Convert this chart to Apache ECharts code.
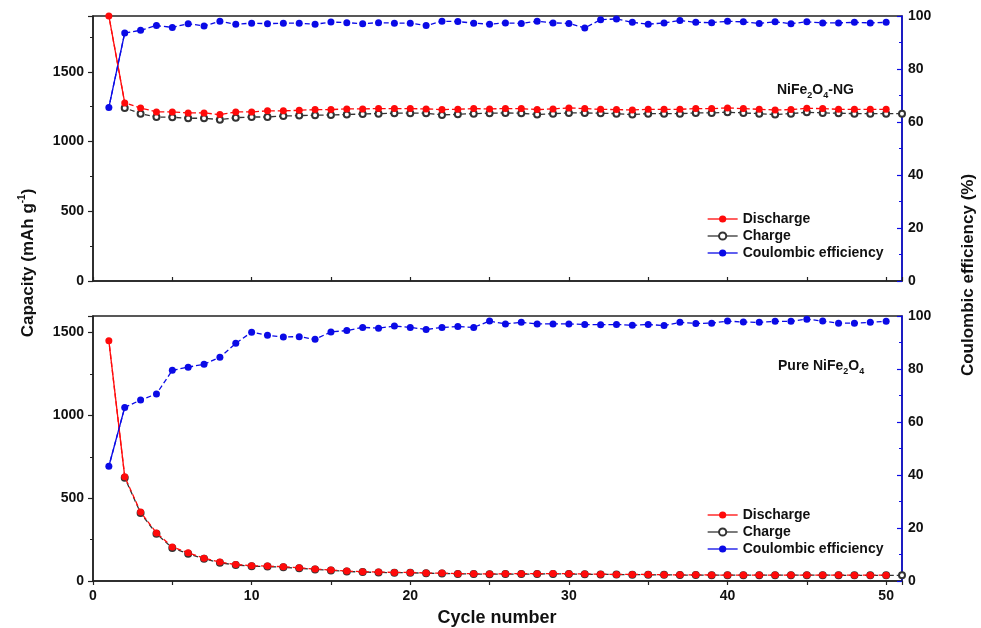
<!DOCTYPE html>
<html>
<head>
<meta charset="utf-8">
<script src="https://cdn.jsdelivr.net/npm/echarts@6/dist/echarts.min.js"></script>
<style>
html,body{margin:0;padding:0;background:#fff;}
#chart{width:981px;height:628px;}
</style>
</head>
<body>
<div id="chart"></div>
<script>
// ---------- data ----------
const cycles = [1,2,3,4,5,6,7,8,9,10,11,12,13,14,15,16,17,18,19,20,21,22,23,24,25,26,27,28,29,30,31,32,33,34,35,36,37,38,39,40,41,42,43,44,45,46,47,48,49,50];
const chargeCycles = [2,3,4,5,6,7,8,9,10,11,12,13,14,15,16,17,18,19,20,21,22,23,24,25,26,27,28,29,30,31,32,33,34,35,36,37,38,39,40,41,42,43,44,45,46,47,48,49,50,51];

// NiFe2O4-NG (top panel)
const ngDischarge = [1900,1277,1241,1212,1212,1205,1205,1193,1212,1212,1220,1220,1224,1229,1229,1234,1234,1236,1236,1236,1234,1229,1231,1236,1234,1236,1236,1229,1234,1241,1236,1231,1229,1226,1231,1231,1231,1236,1236,1241,1236,1231,1226,1229,1238,1236,1231,1231,1231,1231];
const ngCharge = [1241,1200,1176,1174,1167,1167,1157,1171,1176,1176,1183,1186,1188,1191,1193,1198,1200,1203,1203,1203,1191,1195,1200,1203,1205,1203,1193,1200,1205,1205,1203,1200,1193,1200,1200,1200,1205,1205,1210,1205,1200,1193,1200,1210,1205,1203,1200,1200,1200,1200];
const ngCE = [65.5,93.6,94.6,96.4,95.7,97.1,96.2,98.0,96.9,97.3,97.1,97.3,97.3,96.9,97.7,97.5,97.1,97.5,97.3,97.3,96.4,98.0,97.9,97.3,96.9,97.4,97.2,98.0,97.4,97.2,95.5,98.6,98.9,97.6,96.9,97.4,98.3,97.6,97.5,98.0,97.8,97.2,97.8,97.1,97.8,97.4,97.4,97.6,97.4,97.6];

// Pure NiFe2O4 (bottom panel)
const pureDischarge = [1450,630,416,290,206,170,138,114,100,92,90,86,80,72,66,60,56,54,52,52,48,48,44,44,43,44,44,44,45,44,43,41,40,40,39,38,37,37,36,36,36,36,36,36,36,36,36,35,35,35];
const pureCharge = [624,410,285,200,165,134,110,97,89,87,83,77,70,64,58,54,52,50,50,47,46,43,42,41,42,42,42,43,42,41,40,39,38,38,37,36,36,35,35,35,35,35,35,35,35,35,34,34,34,34];
const pureCE = [43.3,65.5,68.3,70.6,79.5,80.7,81.8,84.4,89.7,93.9,92.7,92.1,92.2,91.2,94.0,94.5,95.7,95.4,96.2,95.7,94.9,95.7,96.0,95.7,98.1,97.0,97.6,97.0,97.0,97.0,96.8,96.7,96.8,96.5,96.8,96.4,97.6,97.2,97.3,98.1,97.7,97.6,98.0,98.0,98.8,98.1,97.3,97.3,97.6,98.0];

const xTickLabels = [0,10,20,30,40,50];
const legendNames = ['Discharge','Charge','Coulombic efficiency'];

// ---------- styling ----------
const RED = '#ff0a0a', BLUE = '#0a0ae6', BLACK = '#333333', AXIS = '#222222';
const FONT = '"Liberation Sans", Arial, sans-serif';
const DASH = [5, 2.92];

function pts(xs, ys){ return xs.map((x,i)=>[x, ys[i]]); }

function mainSeries(name, xs, ys, color, gi, yi, empty){
  return {
    name: name, type: 'line', xAxisIndex: gi, yAxisIndex: yi,
    data: pts(xs, ys),
    symbol: empty ? 'emptyCircle' : 'circle', symbolSize: empty ? 6 : 7,
    itemStyle: empty ? {color: color, borderWidth: 1.1} : {color: color},
    lineStyle: {color: color, width: 1.3, type: DASH, dashOffset: 2.5},
    emphasis: {disabled: true}, animation: false, z: empty ? 2 : 3
  };
}
function segSeries(xs, ys, color, gi, yi){
  return {
    name: 'seg', type: 'line', xAxisIndex: gi, yAxisIndex: yi,
    data: pts(xs.slice(0,2), ys.slice(0,2)),
    symbol: 'none', lineStyle: {color: color, width: 1.3},
    emphasis: {disabled: true}, animation: false, silent: true, z: 1
  };
}

const labelStyle = {color: '#111', fontWeight: 'bold', fontSize: 14, fontFamily: FONT};

function xAxisCfg(gi, showLabels){
  return {
    type: 'value', gridIndex: gi, min: 0, max: 51, interval: 5,
    axisLine: {show: true, onZero: false, lineStyle: {color: AXIS, width: 1.5}},
    axisTick: {show: true, inside: !showLabels, length: 4, lineStyle: {color: AXIS, width: 1.2}},
    axisLabel: Object.assign({show: showLabels, margin: 8,
      formatter: v => xTickLabels.indexOf(v) >= 0 ? String(v) : ''}, labelStyle),
    splitLine: {show: false}
  };
}
function yLeftCfg(gi, max){
  return {
    type: 'value', gridIndex: gi, min: 0, max: max, interval: 500, position: 'left',
    axisLine: {show: true, lineStyle: {color: AXIS, width: 1.5}},
    axisTick: {show: true, inside: false, length: 5, lineStyle: {color: AXIS, width: 1.2}},
    minorTick: {show: true, splitNumber: 2, length: 3, lineStyle: {color: AXIS, width: 1}},
    axisLabel: Object.assign({margin: 9, showMaxLabel: false, formatter: v => String(v)}, labelStyle),
    splitLine: {show: false}
  };
}
function yRightCfg(gi){
  return {
    type: 'value', gridIndex: gi, min: 0, max: 100, interval: 20, position: 'right',
    axisLine: {show: true, lineStyle: {color: BLUE, width: 1.5}},
    axisTick: {show: true, inside: true, length: 5, lineStyle: {color: BLUE, width: 1.2}},
    minorTick: {show: true, splitNumber: 2, length: 3, lineStyle: {color: BLUE, width: 1}},
    axisLabel: Object.assign({margin: 6, formatter: v => String(v)}, labelStyle),
    splitLine: {show: false}
  };
}
function legendCfg(top){
  return {
    data: legendNames, orient: 'vertical', left: 702, top: top,
    itemWidth: 30, itemHeight: 9, itemGap: 3, selectedMode: false,
    lineStyle: {type: 'solid', width: 1.3},
    textStyle: {color: '#111', fontWeight: 'bold', fontSize: 14, fontFamily: FONT}
  };
}

const subRich = {
  b: {fontSize: 14, fontWeight: 'bold', fontFamily: FONT, fill: '#111', lineHeight: 20},
  s: {fontSize: 9, fontWeight: 'bold', fontFamily: FONT, fill: '#111', lineHeight: 20, verticalAlign: 'bottom'}
};
const titleRich = {
  t: {fontSize: 17, fontWeight: 'bold', fontFamily: FONT, fill: '#111', lineHeight: 22},
  u: {fontSize: 10, fontWeight: 'bold', fontFamily: FONT, fill: '#111', lineHeight: 22, verticalAlign: 'top'}
};

const option = {
  backgroundColor: '#ffffff',
  animation: false,
  grid: [
    {left: 93, right: 79, top: 16, height: 265, show: true, borderColor: AXIS, borderWidth: 1.5, backgroundColor: 'transparent'},
    {left: 93, right: 79, top: 316, height: 265, show: true, borderColor: AXIS, borderWidth: 1.5, backgroundColor: 'transparent'}
  ],
  xAxis: [xAxisCfg(0, false), xAxisCfg(1, true)],
  yAxis: [yLeftCfg(0, 1900), yRightCfg(0), yLeftCfg(1, 1600), yRightCfg(1)],
  legend: [legendCfg(207), legendCfg(503)],
  series: [
    segSeries(cycles, ngDischarge, RED, 0, 0),
    segSeries(cycles, ngCE, BLUE, 0, 1),
    mainSeries('Charge', chargeCycles, ngCharge, BLACK, 0, 0, true),
    mainSeries('Discharge', cycles, ngDischarge, RED, 0, 0, false),
    mainSeries('Coulombic efficiency', cycles, ngCE, BLUE, 0, 1, false),
    segSeries(cycles, pureDischarge, RED, 1, 2),
    segSeries(cycles, pureCE, BLUE, 1, 3),
    mainSeries('Charge', chargeCycles, pureCharge, BLACK, 1, 2, true),
    mainSeries('Discharge', cycles, pureDischarge, RED, 1, 2, false),
    mainSeries('Coulombic efficiency', cycles, pureCE, BLUE, 1, 3, false)
  ],
  graphic: [
    {type: 'text', x: 777, y: 90, silent: true,
     style: {text: '{b|NiFe}{s|2}{b|O}{s|4}{b|-NG}', rich: subRich, textAlign: 'left', textVerticalAlign: 'middle'}},
    {type: 'text', x: 778, y: 366, silent: true,
     style: {text: '{b|Pure NiFe}{s|2}{b|O}{s|4}', rich: subRich, textAlign: 'left', textVerticalAlign: 'middle'}},
    {type: 'text', x: 28, y: 263, rotation: Math.PI / 2, silent: true,
     style: {text: '{t|Capacity (mAh g}{u|-1}{t|)}', rich: titleRich, textAlign: 'center', textVerticalAlign: 'middle'}},
    {type: 'text', x: 968, y: 275, rotation: Math.PI / 2, silent: true,
     style: {text: 'Coulombic efficiency (%)', font: 'bold 17px ' + FONT, fill: '#111', textAlign: 'center', textVerticalAlign: 'middle'}},
    {type: 'text', x: 497, y: 618, silent: true,
     style: {text: 'Cycle number', font: 'bold 18px ' + FONT, fill: '#111', textAlign: 'center', textVerticalAlign: 'middle'}}
  ]
};

const chart = echarts.init(document.getElementById('chart'), null, {renderer: 'canvas'});
chart.setOption(option);
</script>
</body>
</html>
